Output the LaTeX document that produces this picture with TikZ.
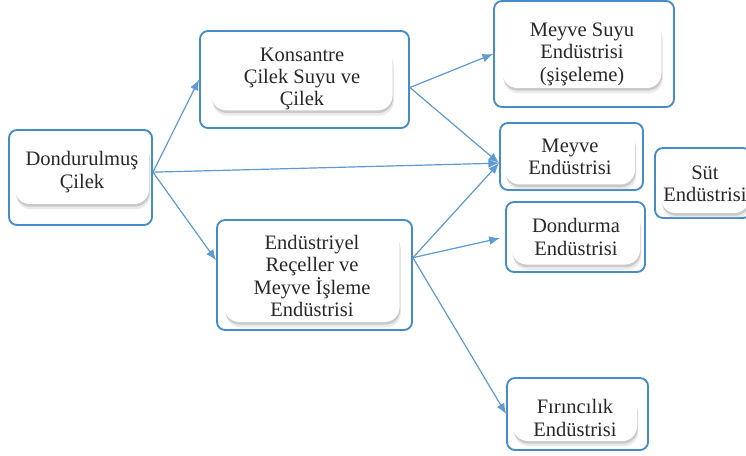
\documentclass[tikz,border=0pt]{standalone}
\usepackage{fontspec}
\setmainfont{Liberation Serif}
\newfontfamily\kutuyazi{Liberation Serif}
\usetikzlibrary{arrows.meta,shadows}
\newcommand{\px}{0.75pt}
\definecolor{kenar}{RGB}{70,140,200}
\definecolor{okmavi}{RGB}{95,155,210}
\definecolor{yazi}{RGB}{40,40,40}

\begin{document}
\begin{tikzpicture}[
  x=\px, y=-\px,
  > = {Latex[length=8pt,width=6.5pt]},
  kutu/.style 2 args = {draw=kenar, line width=1.4pt, rounded corners=6pt, fill=white,
    minimum width=#1*\px, minimum height=#2*\px, inner sep=0pt},
  ic/.style 2 args = {fill=white, rounded corners=11pt, inner sep=0pt, align=center,
    minimum width=#1*\px, minimum height=#2*\px, text=yazi,
    font=\kutuyazi\fontsize{15.4}{16.8}\selectfont,
    drop shadow={shadow xshift=1pt, shadow yshift=-4pt, fill=black!30, opacity=0.25},
    drop shadow={shadow xshift=0.5pt, shadow yshift=-2pt, fill=black!40, opacity=0.4}},
  baglanti/.style = {->, draw=okmavi, fill=kenar, line width=0.9pt}
  ]
	\useasboundingbox (0,0) rectangle (746,456);
	\clip (0,0) rectangle (746,456);

	% dis kutular
	\node[kutu={143}{95}] (dondurulmus) at (80.5,177.5) {};
	\node[kutu={209}{97}] (konsantre) at (304.5,79.5) {};
	\node[kutu={195}{110}] (recel) at (314.5,275) {};
	\node[kutu={180}{106}] (meyvesuyu) at (584,54) {};
	\node[kutu={143}{67}] (meyve) at (571.5,156.5) {};
	\node[kutu={96}{70}] (sut) at (703,183) {};
	\node[kutu={139}{70}] (dondurma) at (575.5,237) {};
	\node[kutu={141}{72}] (firin) at (577.5,414) {};

	% ic kutular ve yazilar
	\node[ic={134}{64}] (dondurulmus-ic) at (82,172) {Dondurulmuş\\Çilek};
	\node[ic={181}{62}] (konsantre-ic) at (302,79) {Konsantre\\Çilek Suyu ve\\Çilek};
	\node[ic={175}{92}] (recel-ic) at (312,276) {Endüstriyel\\Reçeller ve\\Meyve İşleme\\Endüstrisi};
	\node[ic={159}{68}] (meyvesuyu-ic) at (582,54) {Meyve Suyu\\Endüstrisi\\(şişeleme)};
	\node[ic={130}{55}] (meyve-ic) at (570,157) {Meyve\\Endüstrisi};
	\node[ic={88}{58}] (sut-ic) at (705,184) {Süt\\Endüstrisi};
	\node[ic={128}{55}] (dondurma-ic) at (576,237) {Dondurma\\Endüstrisi};
	\node[ic={124}{46}] (firin-ic) at (575,418) {Fırıncılık\\Endüstrisi};

	\coordinate (meyvegiris) at ([yshift=-5pt]meyve.west);

	\draw[baglanti] ([yshift=4pt]dondurulmus.east) -- (konsantre.west);
	\draw[baglanti] ([yshift=4pt]dondurulmus.east) -- ([yshift=11pt]recel.west);
	\draw[baglanti] ([yshift=4pt]dondurulmus.east) -- (meyvegiris);
	\draw[baglanti] ([yshift=-6pt]konsantre.east) -- (meyvesuyu.west);
	\draw[baglanti] ([yshift=-6pt]konsantre.east) -- (meyvegiris);
	\draw[baglanti] ([yshift=13pt]recel.east) -- (meyvegiris);
	\draw[baglanti, shorten >=4pt] ([yshift=13pt]recel.east) -- (dondurma.west);
	\draw[baglanti] ([yshift=13pt]recel.east) -- (firin.west);

\end{tikzpicture}
\end{document}
